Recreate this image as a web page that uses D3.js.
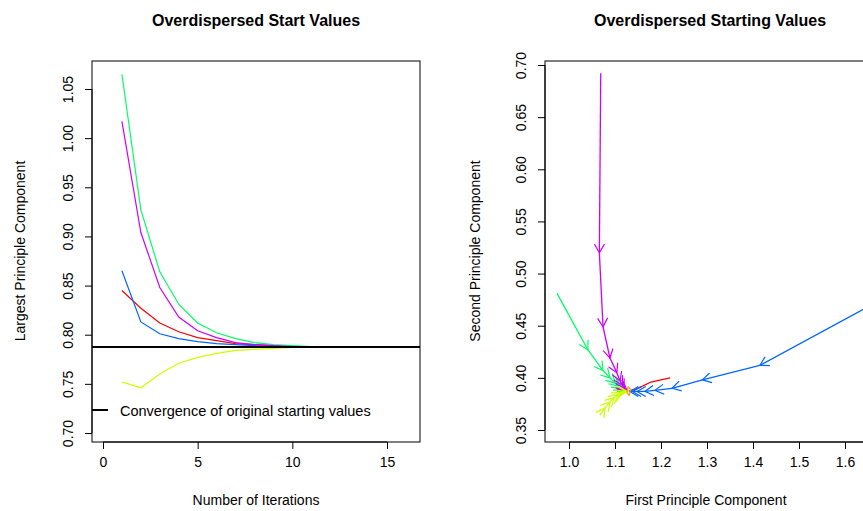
<!DOCTYPE html><html><head><script src="https://cdn.jsdelivr.net/npm/d3@7"></script>
<style>body{margin:0;background:#fff}text{font-family:"Liberation Sans",Arial,sans-serif}</style></head><body>
<svg id="c" width="863" height="511"></svg>
<script>
const iters=[1,2,3,4,5,6,7,8,9,10,11,12,13,14,15,16];
const conv=0.7875;
const green=[1.065,0.927,0.864,0.831,0.812,0.802,0.796,0.792,0.790,0.789,0.788,0.788,0.7876,0.7875,0.7875,0.7875];
const magenta=[1.017,0.904,0.848,0.818,0.804,0.797,0.792,0.790,0.789,0.788,0.788,0.7876,0.7875,0.7875,0.7875,0.7875];
const blue=[0.865,0.813,0.801,0.796,0.793,0.791,0.790,0.789,0.788,0.788,0.7876,0.7875,0.7875,0.7875,0.7875,0.7875];
const red=[0.845,0.827,0.812,0.803,0.797,0.794,0.791,0.790,0.789,0.788,0.7876,0.7875,0.7875,0.7875,0.7875,0.7875];
const yellow=[0.752,0.746,0.760,0.771,0.777,0.781,0.784,0.785,0.786,0.787,0.7872,0.7875,0.7875,0.7875,0.7875,0.7875];
const series=[["#FF0000",red],["#00FF66",green],["#0066FF",blue],["#CC00FF",magenta],["#CCFF00",yellow]];
const pRed=[[1.22,0.400],[1.200,0.398],[1.178,0.396],[1.160,0.392],[1.145,0.389],[1.135,0.388],[1.130,0.387]];
const pGreen=[[0.974,0.481],[1.041,0.427],[1.074,0.407],[1.089,0.400],[1.100,0.395],[1.107,0.392],[1.113,0.390],[1.118,0.389],[1.122,0.388],[1.126,0.387]];
const pBlue=[[1.72,0.485],[1.415,0.412],[1.29,0.398],[1.224,0.390],[1.187,0.388],[1.165,0.387],[1.148,0.387],[1.138,0.387],[1.132,0.387]];
const pMagenta=[[1.069,0.692],[1.066,0.520],[1.074,0.449],[1.089,0.419],[1.104,0.405],[1.111,0.397],[1.116,0.393],[1.120,0.390],[1.123,0.389],[1.126,0.388]];
const pYellow=[[1.067,0.364],[1.078,0.371],[1.089,0.377],[1.098,0.381],[1.106,0.384],[1.113,0.386],[1.119,0.387],[1.124,0.387],[1.127,0.387]];
const pOrange=[[1.128,0.392],[1.134,0.389],[1.131,0.383],[1.126,0.386],[1.128,0.391]];
const paths=[["#FF0000",pRed,false],["#00FF66",pGreen,true],["#0066FF",pBlue,true],["#CC00FF",pMagenta,true],["#CCFF00",pYellow,true],["#FF9900",pOrange,false]];

const svg=d3.select("#c");
const x1=d3.scaleLinear().domain([0,15]).range([103,387]);
const y1=d3.scaleLinear().domain([0.70,1.05]).range([433,89]);
const L={l:92,r:420,t:61,b:442};
const gL=svg.append("g");
gL.append("defs").append("clipPath").attr("id","cl").append("rect").attr("x",L.l).attr("y",L.t).attr("width",L.r-L.l).attr("height",L.b-L.t);
const line1=d3.line().x((d,i)=>x1(iters[i])).y(d=>y1(d));
series.forEach(([c,v])=>gL.append("path").attr("d",line1(v)).attr("fill","none").attr("stroke",c).attr("stroke-width",1.2).attr("clip-path","url(#cl)"));
gL.append("line").attr("x1",L.l).attr("x2",L.r).attr("y1",y1(conv)).attr("y2",y1(conv)).attr("stroke","#000").attr("stroke-width",2);
gL.append("rect").attr("x",L.l).attr("y",L.t).attr("width",L.r-L.l).attr("height",L.b-L.t).attr("fill","none").attr("stroke","#000");
gL.append("g").attr("transform",`translate(0,${L.b})`).call(d3.axisBottom(x1).tickValues([0,5,10,15]).tickSize(7).tickSizeOuter(0)).call(g=>{g.select(".domain").remove();g.selectAll("text").attr("font-size",14).attr("dy","1.1em").attr("fill","#000");});
gL.append("line").attr("x1",x1(0)).attr("x2",x1(15)).attr("y1",L.b).attr("y2",L.b).attr("stroke","#000");
gL.append("g").attr("transform",`translate(${L.l},0)`).call(d3.axisLeft(y1).tickValues(d3.range(0.70,1.051,0.05)).tickFormat(d3.format(".2f")).tickSize(7).tickSizeOuter(0)).call(g=>{g.select(".domain").remove();g.selectAll("text").attr("font-size",14).attr("transform",`rotate(-90,-24,0)`).attr("x",-24).attr("dx",0).attr("dy","0.35em").attr("text-anchor","middle").attr("fill","#000");});
gL.append("line").attr("x1",L.l).attr("x2",L.l).attr("y1",y1(0.70)).attr("y2",y1(1.05)).attr("stroke","#000");
gL.append("line").attr("x1",L.l).attr("x2",L.l+16).attr("y1",410).attr("y2",410).attr("stroke","#000").attr("stroke-width",2);
gL.append("text").attr("x",120).attr("y",416).attr("font-size",14.5).text("Convergence of original starting values");
svg.append("text").attr("x",256).attr("y",26).attr("text-anchor","middle").attr("font-size",16).attr("font-weight","bold").text("Overdispersed Start Values");
svg.append("text").attr("x",256).attr("y",505).attr("text-anchor","middle").attr("font-size",14).text("Number of Iterations");
svg.append("text").attr("transform","translate(25,251) rotate(-90)").attr("text-anchor","middle").attr("font-size",14).text("Largest Principle Component");

const x2=d3.scaleLinear().domain([1.0,1.6]).range([569,845]);
const y2=d3.scaleLinear().domain([0.35,0.70]).range([430,65]);
const R={l:545,r:870,t:61,b:442};
const gR=svg.append("g");
gR.append("defs").append("clipPath").attr("id","cr").append("rect").attr("x",R.l).attr("y",R.t).attr("width",R.r-R.l).attr("height",R.b-R.t);
const pc=gR.append("g").attr("clip-path","url(#cr)");
paths.forEach(([c,p,arr])=>{
  for(let i=0;i<p.length-1;i++){
    const ax=x2(p[i][0]),ay=y2(p[i][1]),bx=x2(p[i+1][0]),by=y2(p[i+1][1]);
    pc.append("line").attr("x1",ax).attr("y1",ay).attr("x2",bx).attr("y2",by).attr("stroke",c).attr("stroke-width",1.3);
    const ang=Math.atan2(by-ay,bx-ax),len=10,h=Math.PI/6;
    if(arr&&Math.hypot(bx-ax,by-ay)>1){
      const d=`M${bx-len*Math.cos(ang-h)},${by-len*Math.sin(ang-h)}L${bx},${by}L${bx-len*Math.cos(ang+h)},${by-len*Math.sin(ang+h)}`;
      pc.append("path").attr("d",d).attr("fill","none").attr("stroke",c).attr("stroke-width",1.2);
    }
  }
});
gR.append("rect").attr("x",R.l).attr("y",R.t).attr("width",R.r-R.l).attr("height",R.b-R.t).attr("fill","none").attr("stroke","#000");
gR.append("g").attr("transform",`translate(0,${R.b})`).call(d3.axisBottom(x2).tickValues(d3.range(1.0,1.61,0.1)).tickFormat(d3.format(".1f")).tickSize(7).tickSizeOuter(0)).call(g=>{g.select(".domain").remove();g.selectAll("text").attr("font-size",14).attr("dy","1.1em").attr("fill","#000");});
gR.append("line").attr("x1",x2(1.0)).attr("x2",870).attr("y1",R.b).attr("y2",R.b).attr("stroke","#000");
gR.append("g").attr("transform",`translate(${R.l},0)`).call(d3.axisLeft(y2).tickValues(d3.range(0.35,0.701,0.05)).tickFormat(d3.format(".2f")).tickSize(7).tickSizeOuter(0)).call(g=>{g.select(".domain").remove();g.selectAll("text").attr("font-size",14).attr("transform",`rotate(-90,-24,0)`).attr("x",-24).attr("dx",0).attr("dy","0.35em").attr("text-anchor","middle").attr("fill","#000");});
gR.append("line").attr("x1",R.l).attr("x2",R.l).attr("y1",y2(0.35)).attr("y2",y2(0.70)).attr("stroke","#000");
svg.append("text").attr("x",710).attr("y",26).attr("text-anchor","middle").attr("font-size",16).attr("font-weight","bold").text("Overdispersed Starting Values");
svg.append("text").attr("x",706).attr("y",505).attr("text-anchor","middle").attr("font-size",14).text("First Principle Component");
svg.append("text").attr("transform","translate(480,251) rotate(-90)").attr("text-anchor","middle").attr("font-size",14).text("Second Principle Component");
</script></body></html>
